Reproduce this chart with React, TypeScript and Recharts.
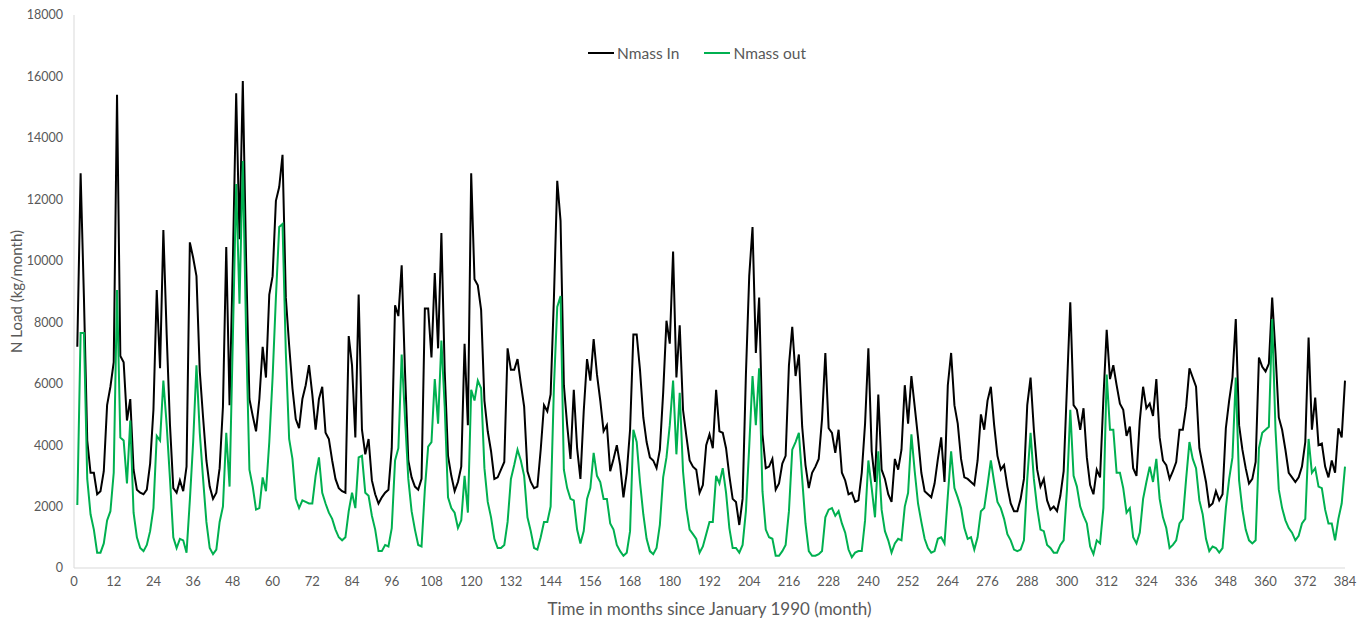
import { LineChart, Line, XAxis, YAxis } from 'recharts';

// monthly N load (kg/month), month 1 = January 1990, one row per year
const NMASS_IN = [
    7200, 12850, 8800, 4150, 3100, 3100, 2400, 2500, 3150, 5300, 5900, 6700,
    15400, 6900, 6700, 4800, 5500, 3200, 2550, 2450, 2400, 2550, 3400, 5150,
    9050, 6500, 11000, 7600, 4650, 2600, 2450, 2850, 2500, 3300, 10600, 10100,
    9500, 6400, 4900, 3500, 2650, 2250, 2450, 3250, 5250, 10450, 5300, 10000,
    15450, 10700, 15850, 10000, 5500, 4950, 4450, 5500, 7200, 6200, 8900, 9500,
    11950, 12400, 13450, 8800, 7250, 5850, 4850, 4550, 5500, 5950, 6600, 5650,
    4500, 5500, 5900, 4400, 4200, 3500, 2900, 2600, 2500, 2450, 7550, 6600,
    4250, 8900, 4500, 3700, 4200, 2850, 2400, 2100, 2300, 2450, 2550, 3900,
    8550, 8200, 9850, 6400, 3500, 2950, 2650, 2550, 2900, 8450, 8450, 6850,
    9600, 7150, 10900, 6400, 3650, 3000, 2500, 2800, 3300, 7300, 4650, 12850,
    9400, 9200, 8400, 5450, 4450, 3800, 2900, 2950, 3200, 3450, 7150, 6450,
    6450, 6800, 6000, 5250, 3150, 2800, 2600, 2650, 3850, 5300, 5100, 5650,
    8800, 12600, 11300, 5950, 4650, 3550, 5800, 3900, 2900, 5100, 6800, 6100,
    7450, 6300, 5450, 4450, 4650, 3150, 3550, 4000, 3350, 2300, 3100, 4500,
    7600, 7600, 6450, 4900, 4100, 3600, 3500, 3250, 3850, 5700, 8050, 7300,
    10300, 6200, 7900, 5150, 4300, 3500, 3300, 3200, 2450, 2700, 4000, 4350,
    3900, 5800, 4450, 4400, 3900, 3000, 2250, 2150, 1400, 2250, 6300, 9500,
    11100, 7000, 8800, 4350, 3250, 3300, 3550, 2550, 2750, 3400, 3650, 6600,
    7850, 6250, 6950, 4600, 3350, 2600, 3100, 3300, 3550, 4850, 7000, 4550,
    4400, 3750, 4500, 3100, 2850, 2400, 2450, 2150, 2200, 3100, 4700, 7150,
    3800, 2800, 5650, 3200, 2900, 2400, 2150, 3550, 3200, 3850, 5950, 4700,
    6250, 5250, 4250, 3100, 2500, 2400, 2300, 2750, 3550, 4250, 2800, 5950,
    7000, 5300, 4700, 3550, 2950, 2900, 2800, 2700, 3500, 5000, 4500, 5450,
    5900, 4650, 3650, 3200, 3350, 2650, 2100, 1850, 1850, 2250, 2900, 5300,
    6200, 4500, 3200, 2650, 2900, 2200, 1900, 2000, 1850, 2350, 3150, 5900,
    8650, 5300, 5150, 4500, 5200, 3600, 2700, 2400, 3200, 2950, 5500, 7750,
    6150, 6600, 5950, 5350, 5150, 4300, 4600, 3250, 3000, 4800, 5900, 5200,
    5350, 4950, 6150, 4250, 3500, 3350, 2900, 3150, 3450, 4500, 4500, 5250,
    6500, 6200, 5900, 3900, 3350, 2800, 2000, 2100, 2500, 2200, 2400, 4550,
    5450, 6200, 8100, 4650, 3850, 3250, 2750, 2900, 3450, 6850, 6550, 6400,
    6650, 8800, 7000, 4900, 4500, 3850, 3100, 2950, 2800, 2950, 3300, 4100,
    7500, 4500, 5550, 4000, 4050, 3300, 2950, 3500, 3100, 4550, 4250, 6100,
];

const NMASS_OUT = [
    2050, 7650, 7650, 2900, 1750, 1250, 500, 500, 800, 1550, 1850, 3100,
    9050, 4250, 4150, 2750, 4800, 1800, 1000, 650, 550, 750, 1200, 1950,
    4300, 4150, 6100, 4650, 2900, 1000, 650, 950, 900, 500, 2200, 4100,
    6600, 4400, 2900, 1500, 650, 450, 600, 1500, 2000, 4400, 2650, 7500,
    12500, 8600, 13250, 7600, 3200, 2650, 1900, 1950, 2950, 2500, 4100, 6200,
    8800, 11100, 11200, 7000, 4200, 3550, 2250, 1950, 2200, 2150, 2100, 2100,
    3000, 3600, 2450, 2100, 1800, 1600, 1250, 1000, 900, 1000, 1850, 2450,
    1950, 3600, 3650, 2450, 2350, 1700, 1250, 550, 550, 750, 700, 1300,
    3500, 3900, 6950, 4900, 2900, 1850, 1250, 750, 700, 2550, 3950, 4100,
    6150, 4700, 7400, 5250, 2300, 1950, 1800, 1300, 1550, 3000, 1800, 5800,
    5450, 6100, 5850, 3250, 2150, 1650, 950, 650, 650, 750, 1500, 2900,
    3350, 3850, 3500, 3000, 1650, 1200, 650, 600, 1000, 1500, 1500, 2000,
    5900, 8500, 8850, 3200, 2600, 2250, 2200, 1250, 800, 1200, 2250, 2600,
    3750, 3000, 2800, 2250, 2250, 1450, 1250, 750, 550, 400, 500, 1200,
    4500, 4100, 2800, 1750, 950, 550, 450, 650, 1400, 2950, 3600, 4650,
    6100, 3700, 5700, 3150, 1950, 1250, 1100, 950, 500, 700, 1100, 1500,
    1500, 3000, 2750, 3250, 2450, 1300, 650, 650, 500, 750, 1850, 3950,
    6250, 4650, 6500, 2500, 1250, 1000, 950, 400, 400, 550, 750, 1850,
    3850, 4100, 4400, 2900, 1450, 550, 400, 400, 450, 550, 1650, 1900,
    1950, 1700, 1850, 1450, 1150, 600, 350, 500, 550, 550, 1550, 3500,
    2600, 1650, 3800, 1900, 1200, 900, 500, 800, 950, 900, 2000, 2450,
    4350, 3150, 2100, 1500, 950, 650, 500, 550, 950, 1000, 800, 2350,
    3800, 2600, 2300, 1950, 1300, 950, 1000, 600, 1000, 1850, 1950, 2700,
    3500, 2800, 2150, 1950, 1600, 1100, 900, 600, 550, 600, 900, 2900,
    4400, 2900, 1950, 1250, 1200, 750, 650, 500, 500, 750, 900, 2550,
    5150, 3000, 2650, 2000, 1700, 1450, 700, 450, 900, 800, 1950, 6300,
    4500, 4500, 3100, 3100, 2600, 1800, 1950, 1000, 800, 1150, 2250, 2800,
    3300, 2800, 3550, 2250, 1650, 1300, 650, 750, 900, 1450, 1600, 2900,
    4100, 3550, 3250, 2200, 1750, 950, 550, 700, 650, 500, 650, 1950,
    2900, 3600, 6200, 2850, 1900, 1250, 900, 800, 900, 3900, 4400, 4500,
    4600, 8100, 4500, 2550, 1950, 1550, 1300, 1150, 900, 1050, 1450, 1600,
    4200, 3100, 3250, 2650, 2600, 1900, 1450, 1450, 900, 1600, 2100, 3300,
];

const X_TICKS = [0, 12, 24, 36, 48, 60, 72, 84, 96, 108, 120, 132, 144, 156, 168, 180, 192,
    204, 216, 228, 240, 252, 264, 276, 288, 300, 312, 324, 336, 348, 360, 372, 384];
const Y_TICKS = [0, 2000, 4000, 6000, 8000, 10000, 12000, 14000, 16000, 18000];

const SERIES_NAMES = ['Nmass In', 'Nmass out'];
const COLORS = ['#000000', '#00B050'];

const data = NMASS_IN.map((v, i) => ({ month: i + 1, nIn: v, nOut: NMASS_OUT[i] }));

const FONT = 'Lato, "Open Sans", sans-serif';
const GREY = '#595959';

function LegendBox() {
    return (
        <div
            style={{
                position: 'absolute',
                left: 588,
                top: 44,
                display: 'flex',
                alignItems: 'center',
                gap: 25,
                fontFamily: FONT,
                fontSize: 15.5,
                color: GREY,
            }}
        >
            {SERIES_NAMES.map((name, i) => (
                <div key={name} style={{ display: 'flex', alignItems: 'center', gap: 3 }}>
                    <div style={{ width: 26, height: 2, background: COLORS[i] }} />
                    <span>{name}</span>
                </div>
            ))}
        </div>
    );
}

export default function App() {
    return (
        <div style={{ position: 'absolute', left: 0, top: 0, width: 1363, height: 621, background: '#fff' }}>
            <LineChart
                width={1363}
                height={621}
                data={data}
                margin={{ top: 15, right: 18, bottom: 0, left: 0 }}
                style={{ fontFamily: FONT }}
            >
                <XAxis
                    dataKey="month"
                    type="number"
                    domain={[0, 384]}
                    ticks={X_TICKS}
                    interval={0}
                    height={53}
                    tickLine={false}
                    tickSize={0}
                    tickMargin={9}
                    axisLine={{ stroke: '#D9D9D9' }}
                    tick={{ fill: GREY, fontSize: 13 }}
                    label={{
                        value: 'Time in months since January 1990 (month)',
                        position: 'insideBottom',
                        offset: 6,
                        style: { fill: GREY, fontSize: 17 },
                    }}
                />
                <YAxis
                    type="number"
                    domain={[0, 18000]}
                    ticks={Y_TICKS}
                    interval={0}
                    width={74}
                    tickLine={false}
                    tickSize={0}
                    tickMargin={11}
                    axisLine={{ stroke: '#D9D9D9' }}
                    tick={{ fill: GREY, fontSize: 12.5 }}
                    label={{
                        value: 'N Load (kg/month)',
                        angle: -90,
                        position: 'insideLeft',
                        offset: 17,
                        style: { fill: GREY, fontSize: 15, textAnchor: 'middle' },
                    }}
                />
                <Line
                    dataKey="nIn"
                    name={SERIES_NAMES[0]}
                    stroke={COLORS[0]}
                    strokeWidth={2}
                    dot={false}
                    isAnimationActive={false}
                />
                <Line
                    dataKey="nOut"
                    name={SERIES_NAMES[1]}
                    stroke={COLORS[1]}
                    strokeWidth={2}
                    dot={false}
                    isAnimationActive={false}
                />
            </LineChart>
            <LegendBox />
        </div>
    );
}
